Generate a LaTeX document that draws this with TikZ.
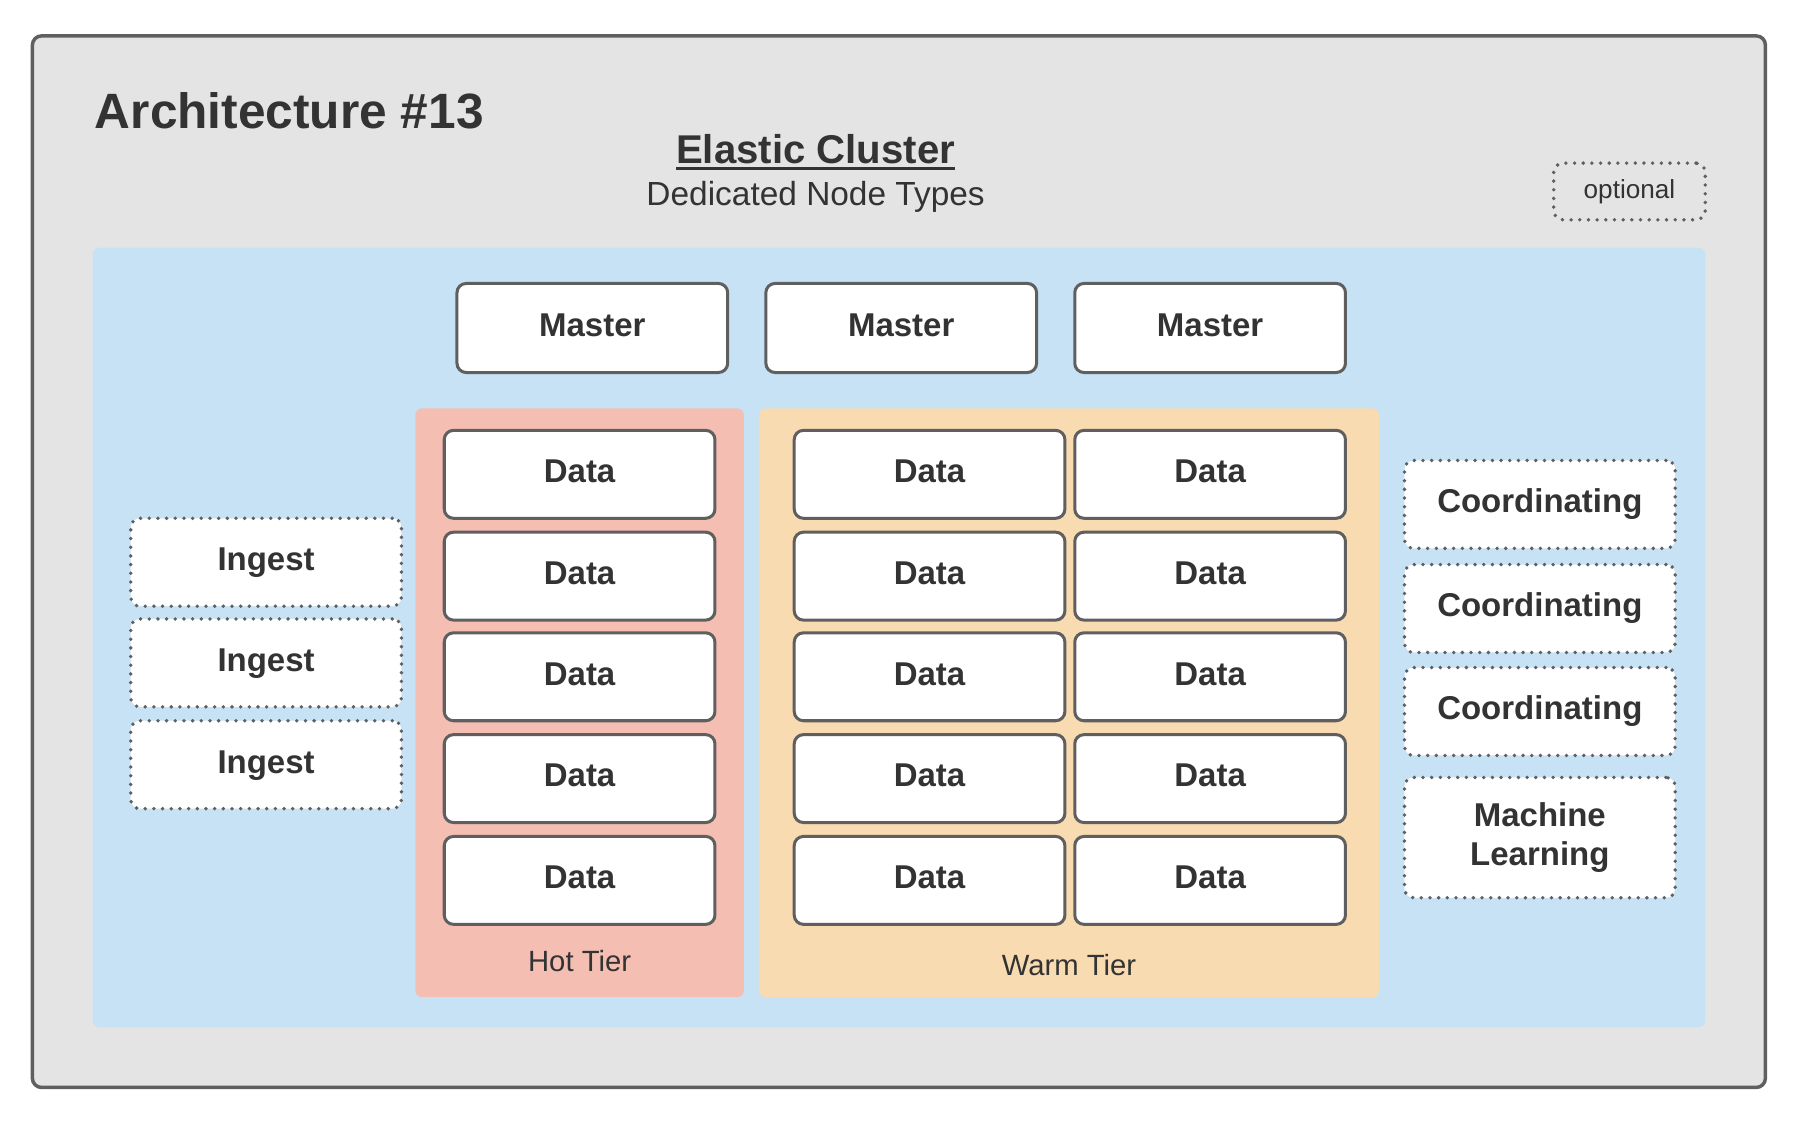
\documentclass[tikz,border=0pt]{standalone}
\usepackage{fontspec}
\setmainfont{Liberation Sans}
\definecolor{bgc}{RGB}{228,228,228}
\definecolor{bord}{RGB}{95,95,95}
\definecolor{txt}{RGB}{51,51,51}
\definecolor{bluec}{RGB}{199,226,244}
\definecolor{hotc}{RGB}{244,190,179}
\definecolor{warmc}{RGB}{248,219,176}
\tikzset{
  solidbox/.style={draw=bord, line width=2.6pt, fill=white, rounded corners=8pt,
    minimum width=234pt, minimum height=76pt, inner sep=0pt, outer sep=0pt,
    text=txt, font=\bfseries\fontsize{28.5}{34}\selectfont, align=center,
    text height=21pt, text depth=6.6pt},
  dotbox/.style={solidbox, line width=3.3pt, dash pattern=on 0pt off 7.5pt, line cap=round},
  regtext/.style={text=txt, inner sep=0pt, outer sep=0pt},
}
\begin{document}
\begin{tikzpicture}[x=1pt,y=-1pt]
\useasboundingbox (0,0) rectangle (1568,984);
% outer frame
\draw[draw=bord, line width=3pt, fill=bgc, rounded corners=8pt] (28,31) rectangle (1526,940);
\node[regtext, anchor=base west, font=\bfseries\fontsize{42.9}{48}\selectfont] (title) at (82,111) {Architecture \#13};
\node[regtext, anchor=base, font=\bfseries\fontsize{34.7}{40}\selectfont] (cluster) at (705,141) {Elastic Cluster};
\draw[txt, line width=2.6pt] ([yshift=-4.5pt]cluster.base west) -- ([yshift=-4.5pt]cluster.base east);
\node[regtext, anchor=base, font=\fontsize{28.9}{34}\selectfont] (sub) at (705,178) {Dedicated Node Types};
\node[dotbox, minimum width=131pt, minimum height=49pt, fill=none, text height=, text depth=, font=\fontsize{22.6}{26}\selectfont] (opt) at (1408.5,165.5) {optional};
% blue cluster area
\fill[bluec, rounded corners=6pt] (80,214) rectangle (1474,888);
% tiers
\fill[hotc, rounded corners=6pt] (359,353) rectangle (643,862);
\fill[warmc, rounded corners=6pt] (656,353) rectangle (1192,862);
\node[regtext, anchor=base, font=\fontsize{25.3}{30}\selectfont] (hotlbl) at (501,840) {Hot Tier};
\node[regtext, anchor=base, font=\fontsize{25.3}{30}\selectfont] (warmlbl) at (924,843) {Warm Tier};
% masters
\node[solidbox, minimum height=77pt] (m1) at (512,283.5) {Master};
\node[solidbox, minimum height=77pt] (m2) at (779,283.5) {Master};
\node[solidbox, minimum height=77pt] (m3) at (1046,283.5) {Master};
% hot data
\node[solidbox] (h1) at (501,410) {Data};
\node[solidbox] (h2) at (501,498) {Data};
\node[solidbox] (h3) at (501,585) {Data};
\node[solidbox] (h4) at (501,673) {Data};
\node[solidbox] (h5) at (501,761) {Data};
% warm data
\node[solidbox] (wa1) at (803.5,410) {Data};
\node[solidbox] (wa2) at (803.5,498) {Data};
\node[solidbox] (wa3) at (803.5,585) {Data};
\node[solidbox] (wa4) at (803.5,673) {Data};
\node[solidbox] (wa5) at (803.5,761) {Data};
\node[solidbox] (wb1) at (1046,410) {Data};
\node[solidbox] (wb2) at (1046,498) {Data};
\node[solidbox] (wb3) at (1046,585) {Data};
\node[solidbox] (wb4) at (1046,673) {Data};
\node[solidbox] (wb5) at (1046,761) {Data};
% ingest
\node[dotbox] (i1) at (230,486) {Ingest};
\node[dotbox] (i2) at (230,573) {Ingest};
\node[dotbox] (i3) at (230,661) {Ingest};
% coordinating and ML
\node[dotbox] (c1) at (1331,436) {Coordinating};
\node[dotbox] (c2) at (1331,526) {Coordinating};
\node[dotbox] (c3) at (1331,615) {Coordinating};
\node[dotbox, minimum height=104pt, text height=, text depth=] (ml) at (1331,724) {Machine\\Learning};
\end{tikzpicture}
\end{document}
